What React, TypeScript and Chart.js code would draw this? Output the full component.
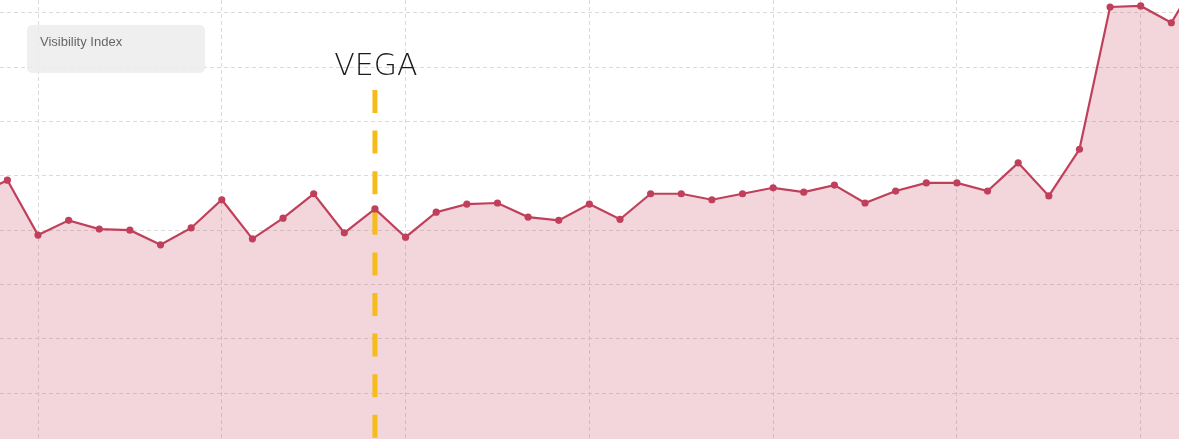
import { useEffect, useRef } from 'react';
import { Chart, registerables, Plugin } from 'chart.js';

Chart.register(...registerables);

// week positions (first and last sit just outside the visible area)
const weeks = [-1, 0, 1, 2, 3, 4, 5, 6, 7, 8, 9, 10, 11, 12, 13, 14, 15, 16, 17, 18, 19, 20,
    21, 22, 23, 24, 25, 26, 27, 28, 29, 30, 31, 32, 33, 34, 35, 36, 37, 38, 39];

const visibility = [4.65, 4.92, 3.91, 4.18, 4.02, 4.0, 3.73, 4.04, 4.56, 3.84, 4.22, 4.67, 3.95, 4.39,
    3.87, 4.33, 4.48, 4.5, 4.24, 4.18, 4.48, 4.2, 4.67, 4.67, 4.56, 4.67, 4.78, 4.7, 4.83, 4.5,
    4.72, 4.87, 4.87, 4.72, 5.24, 4.63, 5.49, 8.11, 8.13, 7.82, 8.77];

const xGridWeeks = [1, 7, 13, 19, 25, 31, 37];
const yGridValues = [1, 2, 3, 4, 5, 6, 7, 8];

const markerWeek = 12;
const markerLabel = 'VEGA';

const LINE = '#c0405c';
const FILL = 'rgba(200, 60, 90, 0.21)';
const GRID = '#dadada';

// yellow dashed marker + logo, drawn between the fill and the line
const markerPlugin: Plugin<'line'> = {
    id: 'marker',
    beforeDatasetDraw(chart) {
        const { ctx, chartArea, scales } = chart;
        const x = scales.x.getPixelForValue(markerWeek);
        ctx.save();
        ctx.strokeStyle = '#f5bc1c';
        ctx.lineWidth = 5;
        ctx.setLineDash([23, 17.6]);
        ctx.beginPath();
        ctx.moveTo(x, 90);
        ctx.lineTo(x, chartArea.bottom + 10);
        ctx.stroke();
        ctx.setLineDash([]);
        ctx.fillStyle = '#1b1b1b';
        ctx.font = '200 30px "DejaVu Sans"';
        ctx.textAlign = 'center';
        ctx.textBaseline = 'alphabetic';
        ctx.fillText(markerLabel, x + 1, 75);
        ctx.restore();
    }
};

export default function App() {
    const canvasRef = useRef<HTMLCanvasElement | null>(null);
    const chartRef = useRef<Chart | null>(null);

    useEffect(() => {
        if (!canvasRef.current) return;
        if (chartRef.current) chartRef.current.destroy();

        chartRef.current = new Chart(canvasRef.current, {
            type: 'line',
            data: {
                datasets: [
                    {
                        label: 'Visibility Index',
                        data: weeks.map((w, i) => ({ x: w, y: visibility[i] })),
                        borderColor: LINE,
                        backgroundColor: FILL,
                        borderWidth: 2.2,
                        pointRadius: 3.6,
                        pointBackgroundColor: LINE,
                        pointBorderColor: LINE,
                        pointBorderWidth: 0,
                        fill: 'start',
                        tension: 0
                    }
                ]
            },
            options: {
                responsive: true,
                maintainAspectRatio: false,
                animation: false,
                layout: { padding: 0, autoPadding: false },
                plugins: {
                    legend: { display: false },
                    tooltip: { enabled: false }
                },
                scales: {
                    x: {
                        type: 'linear',
                        min: -0.2406,
                        max: 38.25,
                        afterBuildTicks: (scale) => {
                            scale.ticks = xGridWeeks.map(value => ({ value }));
                        },
                        ticks: { display: false },
                        border: { display: false, dash: [4, 3] },
                        grid: { color: GRID, lineWidth: 1, drawTicks: false }
                    },
                    y: {
                        type: 'linear',
                        min: 0.153,
                        max: 8.239,
                        afterBuildTicks: (scale) => {
                            scale.ticks = yGridValues.map(value => ({ value }));
                        },
                        ticks: { display: false },
                        border: { display: false, dash: [4, 3] },
                        grid: { color: GRID, lineWidth: 1, drawTicks: false }
                    }
                }
            },
            plugins: [markerPlugin]
        });

        return () => {
            if (chartRef.current) {
                chartRef.current.destroy();
                chartRef.current = null;
            }
        };
    }, []);

    return (
        <div style={{ position: 'fixed', left: 0, top: 0, width: 1179, height: 439, background: '#fff', overflow: 'hidden' }}>
            <canvas ref={canvasRef} />
            <div
                style={{
                    position: 'absolute',
                    left: 27,
                    top: 25,
                    width: 178,
                    height: 48,
                    boxSizing: 'border-box',
                    background: 'rgba(236, 236, 236, 0.85)',
                    borderRadius: 5,
                    padding: '9px 0 0 13px',
                    fontFamily: '"Liberation Sans", Arial, sans-serif',
                    fontSize: 13,
                    color: '#666'
                }}
            >
                Visibility Index
            </div>
        </div>
    );
}
